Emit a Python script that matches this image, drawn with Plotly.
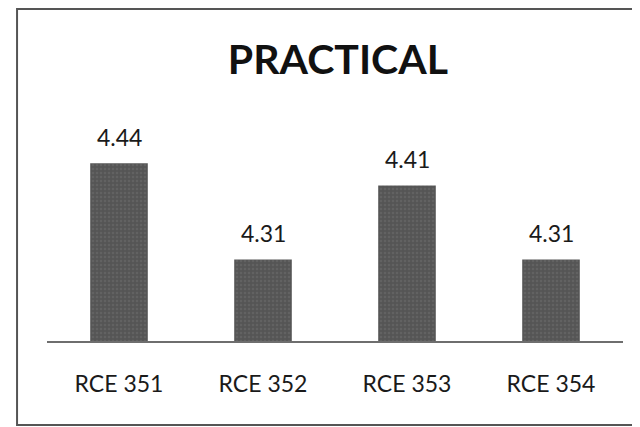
import plotly.graph_objects as go

categories = ["RCE 351", "RCE 352", "RCE 353", "RCE 354"]
values = [4.44, 4.31, 4.41, 4.31]
value_labels = ["4.44", "4.31", "4.41", "4.31"]
title_text = "PRACTICAL"

FONT = "Lato, 'Open Sans', sans-serif"

fig = go.Figure(go.Bar(
    x=categories, y=values,
    marker=dict(color="#585858", line=dict(width=0),
                pattern=dict(shape=".", fgcolor="#6e6e6e", bgcolor="#555555", size=4, solidity=0.3)),
    width=0.4,
))

for c, v, t in zip(categories, values, value_labels):
    fig.add_annotation(x=c, y=v, text=t, showarrow=False, yanchor="bottom", yshift=10,
                       font=dict(family=FONT, size=23, color="#1a1a1a"))

fig.add_shape(type="rect", xref="paper", yref="paper", x0=-0.052, x1=1.019, y0=-0.372, y1=1.469,
              line=dict(color="#555555", width=2), fillcolor="rgba(0,0,0,0)", layer="below")

fig.update_layout(
    width=632, height=419,
    margin=dict(l=39, r=17, t=107, b=86),
    paper_bgcolor="white", plot_bgcolor="white",
    showlegend=False,
    title=dict(text="<b>" + title_text + "</b>", x=0.522, xanchor="center", y=0.876, yanchor="middle",
               font=dict(family=FONT, size=41, color="#111111")),
    xaxis=dict(showline=True, linecolor="#6e6e6e", linewidth=1.5, ticks="", showgrid=False,
               tickfont=dict(family=FONT, size=23, color="#1a1a1a"), ticklabelstandoff=22),
    yaxis=dict(range=[4.2, 4.505], visible=False, showgrid=False),
)

fig.write_html("out.html")
